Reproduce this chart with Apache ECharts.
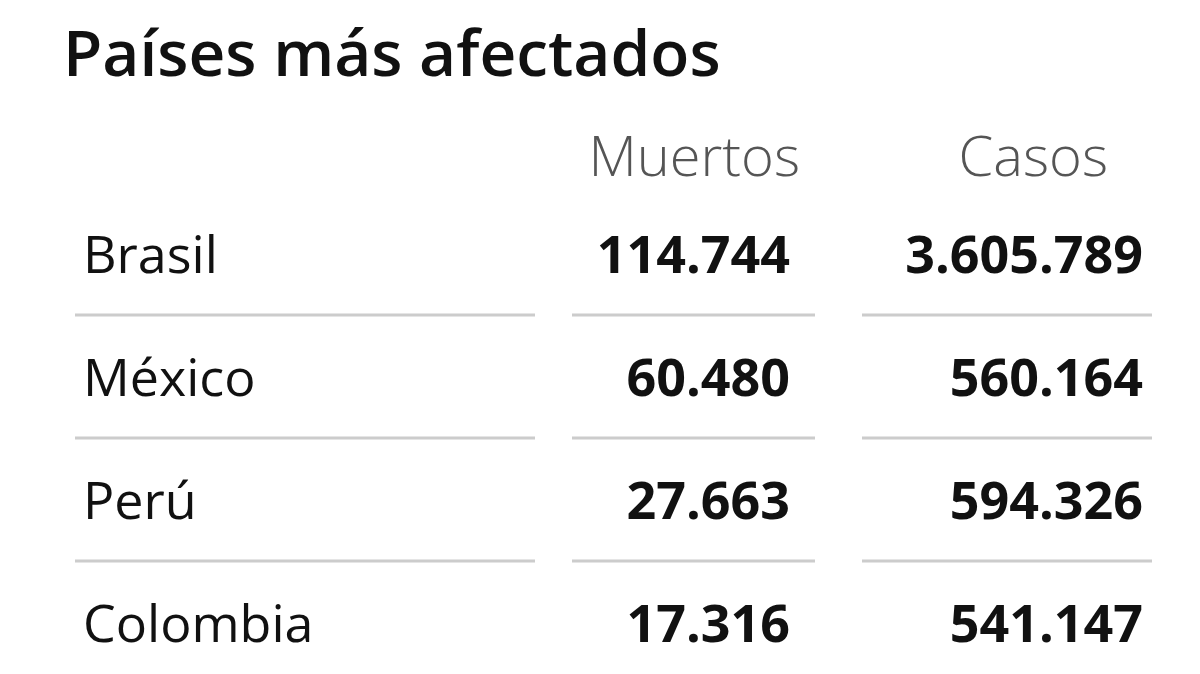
<!DOCTYPE html>
<html><head><meta charset="utf-8">
<script src="https://cdn.jsdelivr.net/npm/echarts@6/dist/echarts.min.js"></script>
<style>html,body{margin:0;background:#fff}#c{width:1200px;height:674px}</style>
</head><body><div id="c"></div>
<script>
const title = 'Países más afectados';
const headers = ['Muertos', 'Casos'];
const countries = ['Brasil', 'México', 'Perú', 'Colombia'];
const deaths = ['114.744', '60.480', '27.663', '17.316'];
const cases = ['3.605.789', '560.164', '594.326', '541.147'];

const chart = echarts.init(document.getElementById('c'));
const font = '"Open Sans", Lato, sans-serif';
const rowY = i => 258 + i * 123;
const els = [];
els.push({ type: 'text', x: 63, y: 58, style: { text: title, font: '600 64px ' + font, fill: '#111', verticalAlign: 'middle' } });
els.push({ type: 'text', x: 800, y: 160, style: { text: headers[0], font: '300 56px ' + font, fill: '#555', align: 'right', verticalAlign: 'middle' } });
els.push({ type: 'text', x: 1108, y: 160, style: { text: headers[1], font: '300 56px ' + font, fill: '#555', align: 'right', verticalAlign: 'middle' } });
countries.forEach((c, i) => {
  const y = rowY(i);
  els.push({ type: 'text', x: 83, y: y, style: { text: c, font: '52px ' + font, fill: '#111', verticalAlign: 'middle' } });
  els.push({ type: 'text', x: 790, y: y, style: { text: deaths[i], font: 'bold 52px ' + font, fill: '#111', align: 'right', verticalAlign: 'middle' } });
  els.push({ type: 'text', x: 1143, y: y, style: { text: cases[i], font: 'bold 52px ' + font, fill: '#111', align: 'right', verticalAlign: 'middle' } });
  if (i < countries.length - 1) {
    const ly = y + 57;
    [[75, 535], [572, 815], [862, 1152]].forEach(([a, b]) => {
      els.push({ type: 'line', shape: { x1: a, y1: ly, x2: b, y2: ly }, style: { stroke: '#ccc', lineWidth: 3 } });
    });
  }
});
chart.setOption({ graphic: { elements: els } });
</script></body></html>
